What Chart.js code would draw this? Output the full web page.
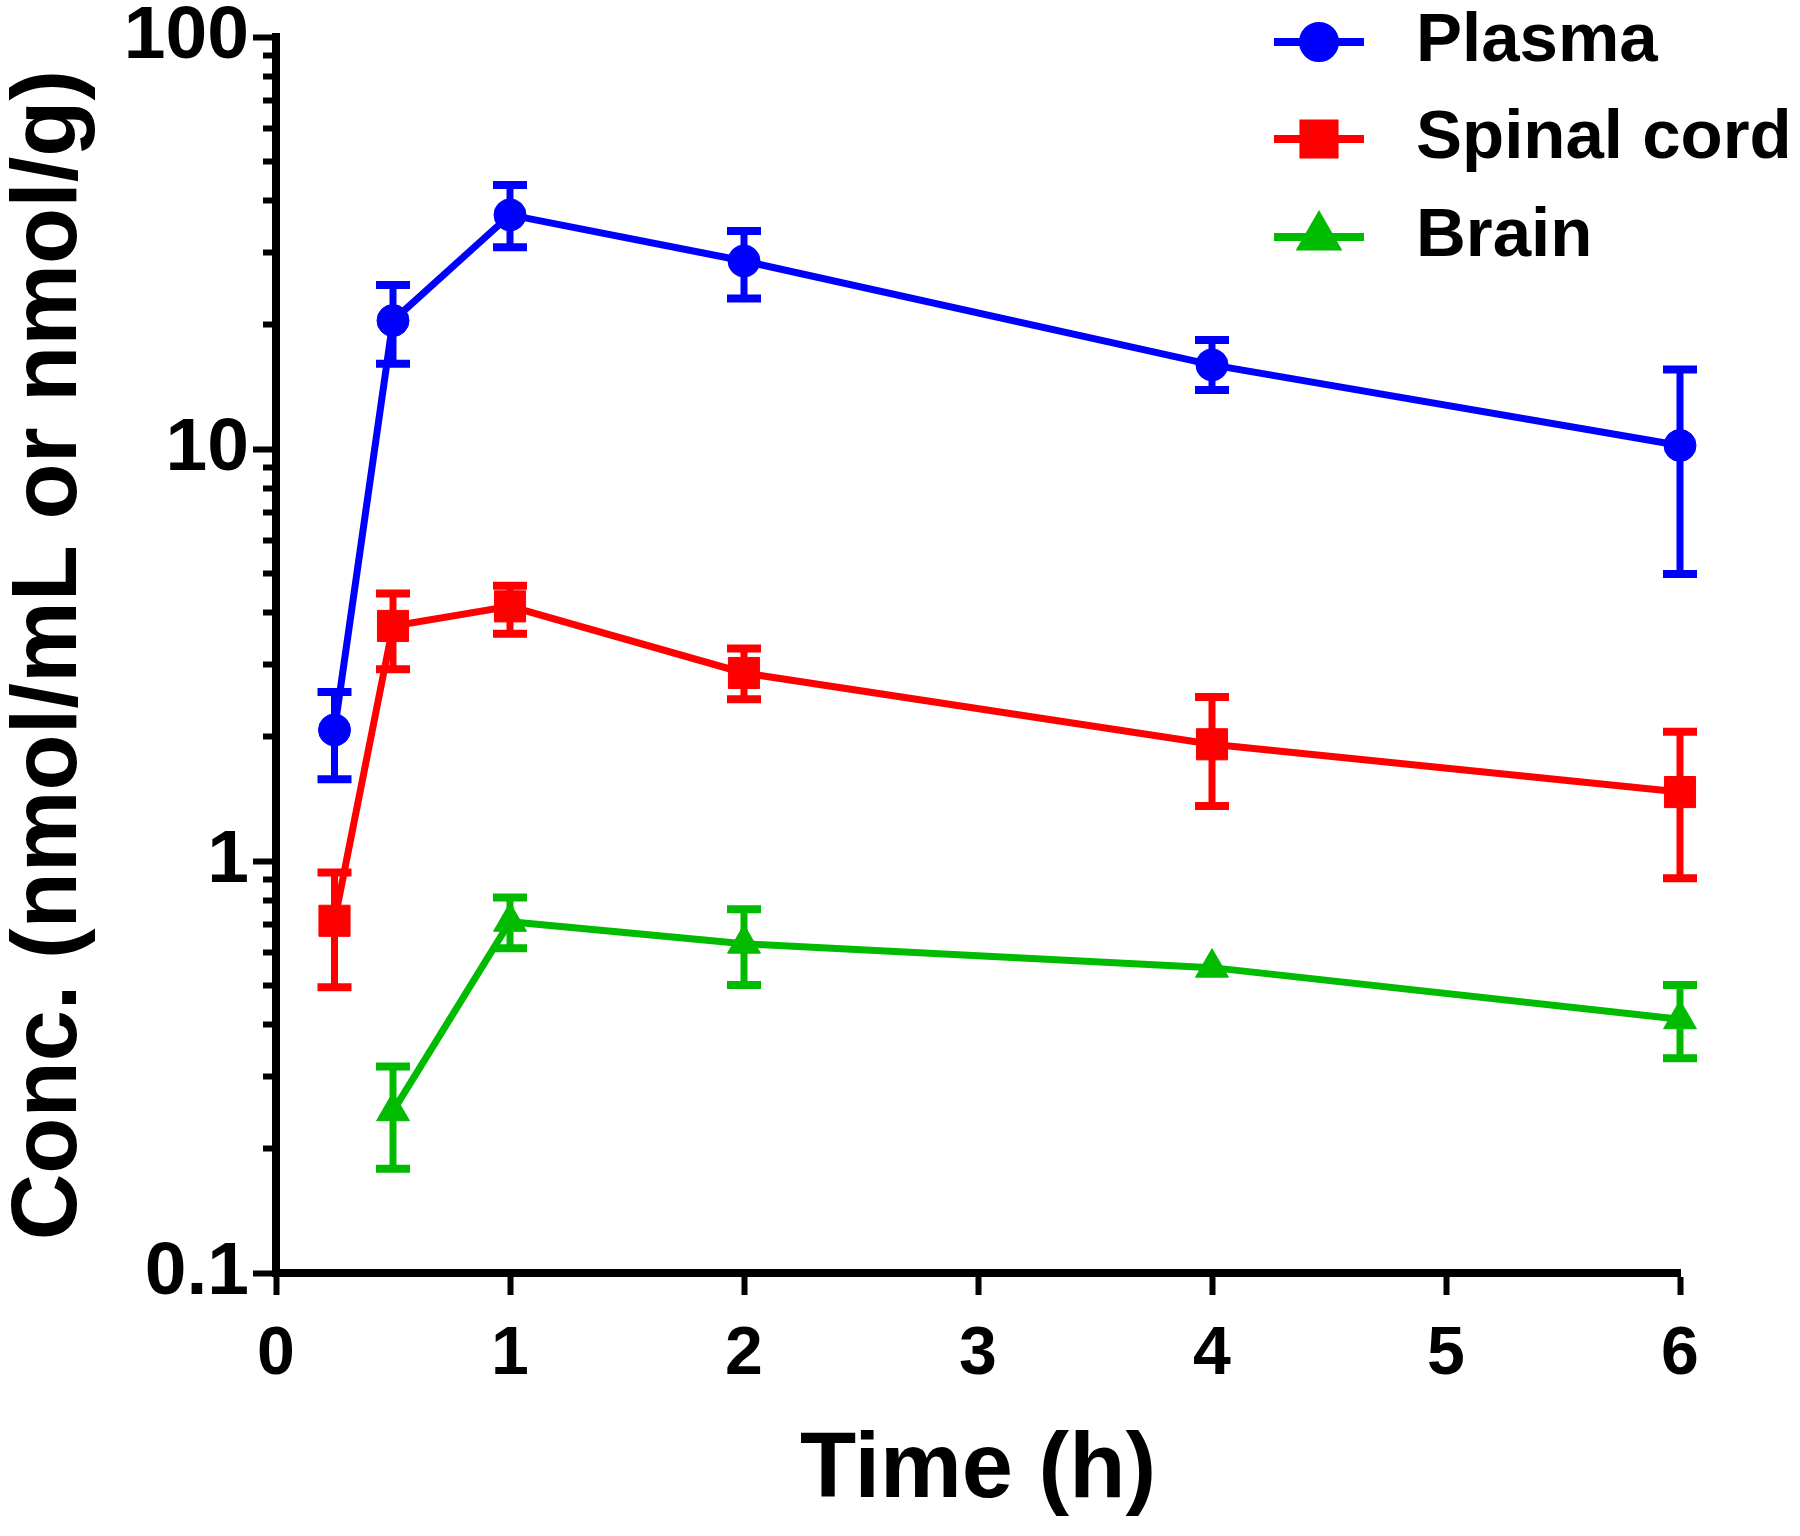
<!DOCTYPE html>
<html><head><meta charset="utf-8">
<script src="https://cdn.jsdelivr.net/npm/chart.js@4.4.1/dist/chart.umd.min.js"></script>
<style>html,body{margin:0;padding:0;background:#fff;}canvas{display:block;}</style>
</head><body>
<canvas id="c" width="1800" height="1536"></canvas>
<script>
// ---- data ----
const seriesNames = ['Plasma', 'Spinal cord', 'Brain'];
const plasmaTime  = [0.25, 0.5, 1, 2, 4, 6];
const plasmaMean  = [2.08, 20.5, 37.0, 28.6, 16.0, 10.2];
const plasmaUpper = [2.57, 25.0, 43.7, 33.8, 18.4, 15.6];
const plasmaLower = [1.58, 16.1, 30.9, 23.2, 13.9, 4.97];
const spinalTime  = [0.25, 0.5, 1, 2, 4, 6];
const spinalMean  = [0.716, 3.72, 4.15, 2.86, 1.92, 1.47];
const spinalUpper = [0.938, 4.46, 4.66, 3.28, 2.50, 2.06];
const spinalLower = [0.494, 2.92, 3.56, 2.47, 1.36, 0.908];
const brainTime   = [0.5, 1, 2, 4, 6];
const brainMean   = [0.247, 0.712, 0.630, 0.551, 0.413];
const brainUpper  = [0.317, 0.815, 0.764, 0.551, 0.500];
const brainLower  = [0.179, 0.614, 0.500, 0.551, 0.332];
const xTicks = [0, 1, 2, 3, 4, 5, 6];
const yMajorTicks = [0.1, 1, 10, 100];
const yTickLabels = ['0.1', '1', '10', '100'];
const yMinorTicks = [0.2, 0.3, 0.4, 0.5, 0.6, 0.7, 0.8, 0.9,
                     2, 3, 4, 5, 6, 7, 8, 9,
                     20, 30, 40, 50, 60, 70, 80, 90];
const xTitle = 'Time (h)';
const yTitle = 'Conc. (nmol/mL or nmol/g)';

const FAMILY = '"Liberation Sans", Arial, Helvetica, sans-serif';
Chart.defaults.font.family = FAMILY;
Chart.defaults.color = '#000';

function pts(xs, ys) { return xs.map((x, i) => ({x: x, y: ys[i]})); }

const colors = ['#0000FF', '#FF0000', '#00BB00'];
const styles = ['circle', 'rect', 'triangle'];
const radii = [16, 22, 19];

const datasets = [
  {label: seriesNames[0], data: pts(plasmaTime, plasmaMean), upper: plasmaUpper, lower: plasmaLower},
  {label: seriesNames[1], data: pts(spinalTime, spinalMean), upper: spinalUpper, lower: spinalLower},
  {label: seriesNames[2], data: pts(brainTime, brainMean), upper: brainUpper, lower: brainLower}
].map((d, i) => Object.assign(d, {
  borderColor: colors[i], backgroundColor: colors[i],
  borderWidth: 7, tension: 0, fill: false, clip: false,
  pointStyle: styles[i], pointRadius: radii[i], pointBorderWidth: 1,
  pointBackgroundColor: colors[i], pointBorderColor: colors[i]
}));

const allY = yMajorTicks.concat(yMinorTicks).sort((a, b) => a - b);

const errorBarPlugin = {
  id: 'errorBars',
  beforeDatasetsDraw(chart) {
    const ctx = chart.ctx, xs = chart.scales.x, ys = chart.scales.y;
    chart.data.datasets.forEach(ds => {
      ds.data.forEach((p, j) => {
        const hi = ds.upper[j], lo = ds.lower[j];
        if (hi === lo) return;
        const px = xs.getPixelForValue(p.x);
        const pHi = ys.getPixelForValue(hi), pLo = ys.getPixelForValue(lo);
        ctx.save();
        ctx.strokeStyle = ds.borderColor;
        ctx.lineWidth = 7;
        ctx.beginPath();
        ctx.moveTo(px, pHi); ctx.lineTo(px, pLo);
        ctx.stroke();
        ctx.lineWidth = 8;
        ctx.beginPath();
        ctx.moveTo(px - 17, pHi); ctx.lineTo(px + 17, pHi);
        ctx.moveTo(px - 17, pLo); ctx.lineTo(px + 17, pLo);
        ctx.stroke();
        ctx.restore();
      });
    });
  }
};

const legendPlugin = {
  id: 'customLegend',
  afterDraw(chart) {
    const ctx = chart.ctx;
    const rowY = [42, 139, 237];
    chart.data.datasets.forEach((ds, i) => {
      const y = rowY[i];
      ctx.save();
      ctx.strokeStyle = ds.borderColor;
      ctx.lineWidth = 8;
      ctx.beginPath(); ctx.moveTo(1274, y); ctx.lineTo(1364, y); ctx.stroke();
      Chart.helpers.drawPoint(ctx, {
        pointStyle: ds.pointStyle, radius: ds.pointRadius, rotation: 0, borderWidth: 1
      }, 1319, y);
      ctx.fillStyle = ds.backgroundColor;
      ctx.fill();
      ctx.fillStyle = '#000';
      ctx.font = 'bold 69px ' + FAMILY;
      ctx.textBaseline = 'middle';
      ctx.textAlign = 'left';
      ctx.fillText(ds.label, 1416, y);
      ctx.restore();
    });
  }
};

new Chart(document.getElementById('c'), {
  type: 'line',
  data: {datasets: datasets},
  plugins: [errorBarPlugin, legendPlugin],
  options: {
    responsive: false,
    animation: false,
    devicePixelRatio: 1,
    layout: {padding: {left: 0, top: 37, right: 120, bottom: 0}},
    plugins: {legend: {display: false}, tooltip: {enabled: false}},
    scales: {
      x: {
        type: 'linear', min: 0, max: 6,
        afterBuildTicks: s => { s.ticks = xTicks.map(v => ({value: v})); },
        afterFit: s => { s.height = 263; s.paddingLeft = 0; s.paddingRight = 0; },
        ticks: {
          autoSkip: false, padding: 26, color: '#000',
          font: {size: 68, weight: 'bold', family: FAMILY, lineHeight: 1},
          callback: v => String(v)
        },
        grid: {drawOnChartArea: false, tickLength: 22, tickWidth: 6, tickColor: '#000'},
        border: {display: true, color: '#000', width: 8},
        title: {
          display: true, text: xTitle, color: '#000',
          font: {size: 92, weight: 'bold', family: FAMILY, lineHeight: 1},
          padding: {top: 0, bottom: 18}
        }
      },
      y: {
        type: 'logarithmic', min: 0.1, max: 100,
        afterBuildTicks: s => { s.ticks = allY.map(v => ({value: v, major: yMajorTicks.indexOf(v) >= 0})); },
        afterFit: s => { s.width = 276; s.paddingTop = 0; s.paddingBottom = 0; },
        ticks: {
          autoSkip: false, padding: 4, color: '#000',
          font: {size: 75, weight: 'bold', family: FAMILY, lineHeight: 1},
          callback: v => { const k = yMajorTicks.indexOf(v); return k >= 0 ? yTickLabels[k] : ''; }
        },
        grid: {
          drawOnChartArea: false, tickLength: 23, tickWidth: 6, tickColor: '#000',
          tickBorderDash: c => (c.tick && yMajorTicks.indexOf(c.tick.value) < 0) ? [0, 10, 40, 0] : []
        },
        border: {display: true, color: '#000', width: 8},
        title: {
          display: true, text: yTitle, color: '#000',
          font: {size: 92, weight: 'bold', family: FAMILY, lineHeight: 1},
          padding: {top: 5, bottom: 0}
        }
      }
    }
  }
});
</script>
</body></html>
